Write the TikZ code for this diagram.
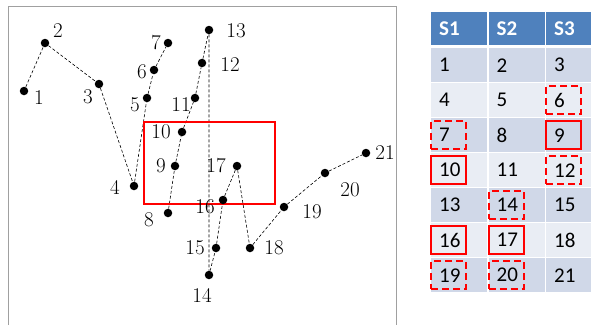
\documentclass[tikz,border=0pt]{standalone}
\usepackage{fontspec}
\newfontfamily\tablefont{Carlito}
\usetikzlibrary{positioning,backgrounds}
\definecolor{hdrblue}{HTML}{4F81BD}
\definecolor{rowdark}{HTML}{D0D8E8}
\definecolor{rowlight}{HTML}{E9EDF4}
\definecolor{framegray}{HTML}{A0A0A0}
\tikzset{
  dot/.style={circle, fill=black, inner sep=0pt, minimum size=8.5pt},
  num/.style={inner sep=0pt, font=\fontsize{21}{25}\selectfont},
  link/.style={draw=black, line width=0.6pt, dash pattern=on 3pt off 2pt},
  window/.style={draw=red, line width=2pt},
  tcell/.style={anchor=north west, inner xsep=8pt, inner ysep=0pt, minimum height=34pt,
                text width=40pt, align=left, text=black,
                font=\tablefont\fontsize{21}{25}\selectfont},
  hdr/.style={tcell, fill=hdrblue, text=white, minimum height=33pt,
              font=\tablefont\bfseries\fontsize{21}{25}\selectfont},
  darkrow/.style={tcell, fill=rowdark},
  lightrow/.style={tcell, fill=rowlight},
  narrow/.style={text width=29pt},
  hit/.style={draw=red, line width=2pt, minimum width=35pt, minimum height=28pt,
              inner sep=0pt, anchor=west},
  miss/.style={hit, dash pattern=on 7pt off 4pt},
}

\begin{document}
\begin{tikzpicture}[x=1pt, y=-1pt]
\useasboundingbox (0,0) rectangle (591,325);
\draw[framegray, line width=0.8pt] (8,325) -- (8,6) -- (396,6) -- (396,325);

% trajectory points
\node[dot] (p1) at (24,91) {};   \node[num] (l1) at (39,98) {1};
\node[dot] (p2) at (45,43) {};   \node[num] (l2) at (58,31) {2};
\node[dot] (p3) at (99,84) {};   \node[num] (l3) at (88,97) {3};
\node[dot] (p4) at (134,186) {}; \node[num] (l4) at (115,187) {4};
\node[dot] (p5) at (147,98) {};  \node[num] (l5) at (135,105) {5};
\node[dot] (p6) at (154,70) {};  \node[num] (l6) at (142,72) {6};
\node[dot] (p7) at (168,43) {};  \node[num] (l7) at (156,43) {7};
\node[dot] (p8) at (168,213) {}; \node[num] (l8) at (149,220) {8};
\node[dot] (p9) at (175,166) {}; \node[num] (l9) at (161,166) {9};
\node[dot] (p10) at (182,132) {}; \node[num] (l10) at (161,132) {10};
\node[dot] (p11) at (195,98) {};  \node[num] (l11) at (181,105) {11};
\node[dot] (p12) at (202,63) {};  \node[num] (l12) at (230,65) {12};
\node[dot] (p13) at (209,30) {};  \node[num] (l13) at (236,31) {13};
\node[dot] (p14) at (209,275) {}; \node[num] (l14) at (202,295) {14};
\node[dot] (p15) at (216,248) {}; \node[num] (l15) at (195,248) {15};
\node[dot] (p16) at (223,200) {}; \node[num] (l16) at (205,207) {16};
\node[dot] (p17) at (237,166) {}; \node[num] (l17) at (216,166) {17};
\node[dot] (p18) at (250,248) {}; \node[num] (l18) at (274,248) {18};
\node[dot] (p19) at (284,207) {}; \node[num] (l19) at (312,212) {19};
\node[dot] (p20) at (325,173) {}; \node[num] (l20) at (350,190) {20};
\node[dot] (p21) at (366,153) {}; \node[num] (l21) at (385,153) {21};

\begin{scope}[on background layer]
\draw[link] (p1) -- (p2) -- (p3) -- (p4) -- (p5) -- (p6) -- (p7);
\draw[link] (p8) -- (p9) -- (p10) -- (p11) -- (p12) -- (p13) -- (p14);
\draw[link] (p14) -- (p15) -- (p16) -- (p17) -- (p18) -- (p19) -- (p20) -- (p21);
\draw[window] (144,122) rectangle (275,204);
\end{scope}

% table of streams
\node[hdr] (s1) at (431,12) {S1};
\node[hdr] (s2) at (488.5,12) {S2};
\node[hdr, narrow] (s3) at (546,12) {S3};
\node[darkrow] (c1) at (431,48) {1};
\node[darkrow] (c2) at (488.5,48) {2};
\node[darkrow, narrow] (c3) at (546,48) {3};
\node[lightrow] (c4) at (431,83) {4};
\node[lightrow] (c5) at (488.5,83) {5};
\node[lightrow, narrow] (c6) at (546,83) {6};
\node[darkrow] (c7) at (431,118) {7};
\node[darkrow] (c8) at (488.5,118) {8};
\node[darkrow, narrow] (c9) at (546,118) {9};
\node[lightrow] (c10) at (431,153) {10};
\node[lightrow] (c11) at (488.5,153) {11};
\node[lightrow, narrow] (c12) at (546,153) {12};
\node[darkrow] (c13) at (431,188) {13};
\node[darkrow] (c14) at (488.5,188) {14};
\node[darkrow, narrow] (c15) at (546,188) {15};
\node[lightrow] (c16) at (431,223) {16};
\node[lightrow] (c17) at (488.5,223) {17};
\node[lightrow, narrow] (c18) at (546,223) {18};
\node[darkrow] (c19) at (431,258) {19};
\node[darkrow] (c20) at (488.5,258) {20};
\node[darkrow, narrow] (c21) at (546,258) {21};

% marked cells
\node[miss] (m6) at ([xshift=-1pt]c6.west) {};
\node[miss] (m7) at ([xshift=-1pt]c7.west) {};
\node[hit] (m9) at ([xshift=-1pt]c9.west) {};
\node[hit] (m10) at ([xshift=-1pt]c10.west) {};
\node[miss] (m12) at ([xshift=-1pt]c12.west) {};
\node[miss] (m14) at ([xshift=-1pt]c14.west) {};
\node[hit] (m16) at ([xshift=-1pt]c16.west) {};
\node[hit] (m17) at ([xshift=-1pt]c17.west) {};
\node[miss] (m19) at ([xshift=-1pt]c19.west) {};
\node[miss] (m20) at ([xshift=-1pt]c20.west) {};
\end{tikzpicture}
\end{document}
